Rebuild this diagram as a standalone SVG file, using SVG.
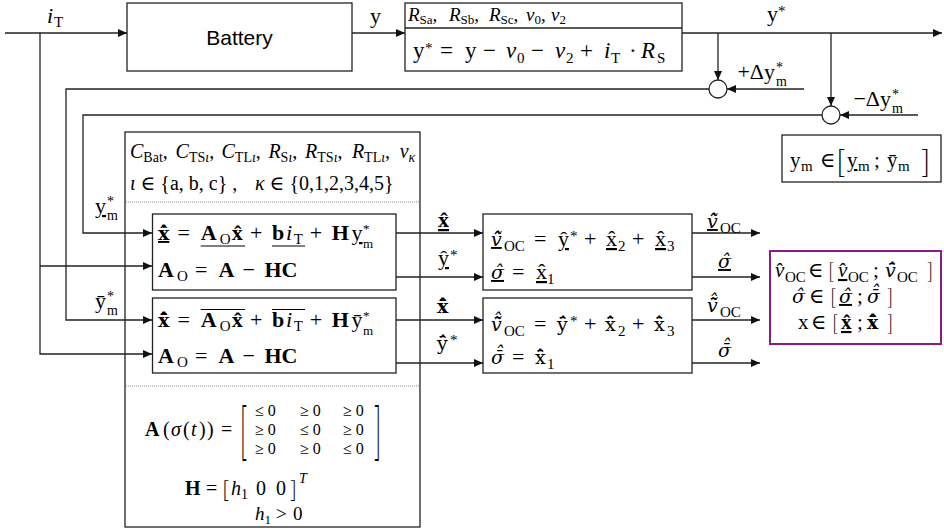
<svg xmlns="http://www.w3.org/2000/svg" width="944" height="532" viewBox="0 0 944 532">
<defs>
<marker id="ah" viewBox="0 0 9 8" refX="9" refY="4" markerWidth="9" markerHeight="8" markerUnits="userSpaceOnUse" orient="auto"><path d="M0,0 L9,4 L0,8 z" fill="#111"/></marker>
<style>
.ln{fill:none;stroke:#222;stroke-width:1.3}
.ar{marker-end:url(#ah)}
.bx{fill:#fff;stroke:#222;stroke-width:1.3}
.pb{fill:#fff;stroke:#8b1a8b;stroke-width:2}
.dt{stroke:#888;stroke-width:1;stroke-dasharray:1 1}
.t{font-family:"Liberation Serif","DejaVu Serif",serif;font-size:22px;fill:#000}
.sans{font-family:"Liberation Sans",Arial,sans-serif;font-size:21px;fill:#000}
.s{font-size:15px}
.i{font-style:italic}
.b{font-weight:bold}
.u{text-decoration:underline}
.dj{font-family:"DejaVu Serif",serif;font-size:19px}
.dl{stroke:#000;stroke-width:1}
.br{font-family:Lato,"DejaVu Sans",sans-serif;font-weight:300;fill:#000}
</style>
</defs>
<rect width="944" height="532" fill="#fff"/>

<g id="battery">
<rect class="bx" x="127" y="3" width="225" height="68"/>
<text class="sans" x="239.5" y="45" text-anchor="middle">Battery</text>
</g>

<g id="correction">
<rect class="bx" x="405" y="3" width="277" height="68"/>
<line class="ln" x1="405" y1="28" x2="682" y2="28"/>
<text class="t" style="font-size:19px"><tspan x="408" y="21" class="i">R</tspan><tspan y="24" style="font-size:13px">Sa</tspan><tspan y="21">,</tspan><tspan x="449" y="21" class="i">R</tspan><tspan y="24" style="font-size:13px">Sb</tspan><tspan y="21">,</tspan><tspan x="489" y="21" class="i">R</tspan><tspan y="24" style="font-size:13px">Sc</tspan><tspan y="21">,</tspan><tspan x="526" y="21" class="i">v</tspan><tspan y="24" style="font-size:13px">0</tspan><tspan y="21">,</tspan><tspan x="551" y="21" class="i">v</tspan><tspan y="24" style="font-size:13px">2</tspan></text>
<text class="t" style="font-size:23px"><tspan x="413" y="58">y</tspan><tspan x="425" y="53" class="s">*</tspan><tspan x="440" y="58">=</tspan><tspan x="465" y="58">y</tspan><tspan x="483" y="58">−</tspan><tspan x="506" y="58" class="i">v</tspan><tspan x="517" y="63" class="s">0</tspan><tspan x="531" y="58">−</tspan><tspan x="555" y="58" class="i">v</tspan><tspan x="566" y="63" class="s">2</tspan><tspan x="580" y="58">+</tspan><tspan x="604" y="58" class="i">i</tspan><tspan x="611" y="63" class="s">T</tspan><tspan x="629" y="58">·</tspan><tspan x="641" y="58" class="i">R</tspan><tspan x="657" y="63" class="s">S</tspan></text>
</g>

<g id="observer">
<rect class="bx" x="125" y="132" width="295" height="395"/>
<text class="t" style="font-size:20px"><tspan x="130" y="158" class="i">C</tspan><tspan y="162" style="font-size:14px">Bat</tspan><tspan y="158">,</tspan><tspan x="175.6" y="158" class="i">C</tspan><tspan y="162" style="font-size:14px">TS<tspan class="i">ι</tspan></tspan><tspan y="158">,</tspan><tspan x="221.5" y="158" class="i">C</tspan><tspan y="162" style="font-size:14px">TL<tspan class="i">ι</tspan></tspan><tspan y="158">,</tspan><tspan x="268.4" y="158" class="i">R</tspan><tspan y="162" style="font-size:14px">S<tspan class="i">ι</tspan></tspan><tspan y="158">,</tspan><tspan x="305.1" y="158" class="i">R</tspan><tspan y="162" style="font-size:14px">TS<tspan class="i">ι</tspan></tspan><tspan y="158">,</tspan><tspan x="351.9" y="158" class="i">R</tspan><tspan y="162" style="font-size:14px">TL<tspan class="i">ι</tspan></tspan><tspan y="158">,</tspan><tspan x="399.7" y="158" class="i">v</tspan><tspan y="162" style="font-size:14px" class="i">κ</tspan></text>
<text class="t" style="font-size:20px"><tspan x="130" y="190" class="i">ι</tspan><tspan y="190"> ∈ {a, b, c} ,</tspan><tspan x="255" y="190" class="i">κ</tspan><tspan y="190"> ∈ {0,1,2,3,4,5}</tspan></text>
<line class="dt" x1="126" y1="202" x2="419" y2="202"/>
<line class="dt" x1="126" y1="386" x2="419" y2="386"/>
<text class="t" style="font-size:20px"><tspan x="145" y="436" class="b">A</tspan><tspan x="163" y="436">(</tspan><tspan x="171" y="436" class="i">σ</tspan><tspan x="183" y="436">(</tspan><tspan x="191" y="436" class="i">t</tspan><tspan x="199" y="436">)</tspan><tspan x="207" y="436">)</tspan><tspan x="221" y="436">=</tspan></text>
<text class="br" transform="translate(240,453) scale(1,2.6)" style="font-size:24px">[</text>
<text class="br" transform="translate(374,453) scale(1,2.6)" style="font-size:24px">]</text>
<text class="t" style="font-size:16px"><tspan x="255" y="416">≤ 0</tspan><tspan x="300" y="416">≥ 0</tspan><tspan x="343" y="416">≥ 0</tspan><tspan x="255" y="435">≥ 0</tspan><tspan x="300" y="435">≤ 0</tspan><tspan x="343" y="435">≥ 0</tspan><tspan x="255" y="454">≥ 0</tspan><tspan x="300" y="454">≥ 0</tspan><tspan x="343" y="454">≤ 0</tspan></text>
<text class="t" style="font-size:20px"><tspan x="185" y="495" class="b">H</tspan><tspan x="206" y="495">=</tspan><tspan x="231" y="495" class="i">h</tspan><tspan y="499" style="font-size:14px">1</tspan><tspan x="256" y="495">0</tspan><tspan x="276" y="495">0</tspan><tspan x="299" y="483" class="i" style="font-size:14px">T</tspan></text>
<text class="br" x="222" y="498" style="font-size:24px">[</text>
<text class="br" x="290" y="498" style="font-size:24px">]</text>
<text class="t" style="font-size:19px"><tspan x="255" y="520" class="i">h</tspan><tspan y="524" style="font-size:13px">1</tspan><tspan x="276" y="520">&gt;</tspan><tspan x="293" y="520">0</tspan></text>
</g>

<g id="observer-lower">
<rect class="bx" x="152.5" y="214" width="243.5" height="76"/>
<text class="t"><tspan x="158" y="240" class="dj b u">x&#x302;&#x307;</tspan><tspan x="177.5" y="240">=</tspan><tspan x="200.7" y="240" class="b">A</tspan><tspan x="219.8" y="244" class="s">O</tspan><tspan x="231.8" y="240" class="b">x&#x302;</tspan><tspan x="250" y="240">+</tspan><tspan x="272" y="240" class="b">b</tspan><tspan x="286" y="240" class="i">i</tspan><tspan x="293.7" y="244" class="s">T</tspan><tspan x="309.7" y="240">+</tspan><tspan x="331.7" y="240" class="b">H</tspan><tspan x="351.5" y="240" class="u">y</tspan><tspan x="363.1" y="233" style="font-size:13px">*</tspan><tspan x="363.1" y="248" style="font-size:13px">m</tspan></text>
<line class="dl" x1="200.7" y1="246" x2="245" y2="246"/>
<line class="dl" x1="272" y1="246" x2="305" y2="246"/>
<text class="t"><tspan x="158" y="277" class="b">A</tspan><tspan x="177" y="281" class="s">O</tspan><tspan x="195" y="277">=</tspan><tspan x="218.5" y="277" class="b">A</tspan><tspan x="242.5" y="277">−</tspan><tspan x="264.5" y="277" class="b">HC</tspan></text>
</g>

<g id="observer-upper">
<rect class="bx" x="152.5" y="298" width="243.5" height="75"/>
<text class="t"><tspan x="158" y="327" class="dj b">x&#x304;&#x302;&#x307;</tspan><tspan x="177.5" y="327">=</tspan><tspan x="200.7" y="327" class="b">A</tspan><tspan x="219.8" y="331" class="s">O</tspan><tspan x="231.8" y="327" class="b">x&#x302;</tspan><tspan x="250" y="327">+</tspan><tspan x="272" y="327" class="b">b</tspan><tspan x="286" y="327" class="i">i</tspan><tspan x="293.7" y="331" class="s">T</tspan><tspan x="309.7" y="327">+</tspan><tspan x="331.7" y="327" class="b">H</tspan><tspan x="351.5" y="327">ȳ</tspan><tspan x="363.1" y="320" style="font-size:13px">*</tspan><tspan x="363.1" y="335" style="font-size:13px">m</tspan></text>
<line class="dl" x1="200.7" y1="309.5" x2="245" y2="309.5"/>
<line class="dl" x1="272" y1="309.5" x2="305" y2="309.5"/>
<text class="t"><tspan x="158" y="363" class="b">A</tspan><tspan x="177" y="367" class="s">O</tspan><tspan x="195" y="363">=</tspan><tspan x="218.5" y="363" class="b">A</tspan><tspan x="242.5" y="363">−</tspan><tspan x="264.5" y="363" class="b">HC</tspan></text>
</g>

<g id="estimate-lower">
<rect class="bx" x="483" y="214" width="209" height="76"/>
<text class="t"><tspan x="491" y="246" class="dj i u">v&#x303;&#x302;</tspan><tspan x="504" y="251" class="s">OC</tspan><tspan x="534" y="246">=</tspan><tspan x="558" y="246" class="u">ŷ</tspan><tspan x="570" y="241" class="s">*</tspan><tspan x="584" y="246">+</tspan><tspan x="606" y="246" class="u">x&#x302;</tspan><tspan x="618" y="251" class="s">2</tspan><tspan x="632" y="246">+</tspan><tspan x="655" y="246" class="u">x&#x302;</tspan><tspan x="667" y="251" class="s">3</tspan></text>
<text class="t"><tspan x="491" y="279" class="dj i u">σ&#x302;</tspan><tspan x="512" y="279">=</tspan><tspan x="536" y="279" class="u">x&#x302;</tspan><tspan x="547" y="284" class="s">1</tspan></text>
</g>

<g id="estimate-upper">
<rect class="bx" x="483" y="298" width="209" height="75"/>
<text class="t"><tspan x="491" y="331" class="dj i">v&#x303;&#x304;&#x302;</tspan><tspan x="504" y="336" class="s">OC</tspan><tspan x="534" y="331">=</tspan><tspan x="557" y="331" class="dj">y&#x304;&#x302;</tspan><tspan x="570" y="326" class="s">*</tspan><tspan x="584" y="331">+</tspan><tspan x="605" y="331" class="dj">x&#x304;&#x302;</tspan><tspan x="618" y="336" class="s">2</tspan><tspan x="632" y="331">+</tspan><tspan x="654" y="331" class="dj">x&#x304;&#x302;</tspan><tspan x="667" y="336" class="s">3</tspan></text>
<text class="t"><tspan x="491" y="364" class="dj i">σ&#x304;&#x302;</tspan><tspan x="512" y="364">=</tspan><tspan x="535" y="364" class="dj">x&#x304;&#x302;</tspan><tspan x="547" y="369" class="s">1</tspan></text>
</g>

<g id="sum-plus">
<circle class="bx" cx="718" cy="89" r="9"/>
</g>
<g id="sum-minus">
<circle class="bx" cx="831" cy="115" r="9"/>
</g>

<g id="ym-range">
<rect class="bx" x="782" y="135" width="159" height="47"/>
<text class="t" style="font-size:21px"><tspan x="790" y="167">y</tspan><tspan x="801" y="171" class="s">m</tspan><tspan x="820" y="167">∈</tspan><tspan x="847" y="167" class="u">y</tspan><tspan x="858" y="171" class="s">m</tspan><tspan x="874" y="167">;</tspan><tspan x="887" y="167">ȳ</tspan><tspan x="898" y="171" class="s">m</tspan></text>
<text class="br" x="836" y="173" style="font-size:32px">[</text>
<text class="br" x="921" y="173" style="font-size:32px">]</text>
</g>

<g id="result">
<rect class="pb" x="770" y="251" width="171" height="93"/>
<text class="t" style="font-size:21px"><tspan x="775" y="277" class="i">v&#x302;</tspan><tspan x="785" y="282" class="s">OC</tspan><tspan x="808" y="277">∈</tspan><tspan x="838" y="277" class="i u">v&#x302;</tspan><tspan x="848" y="282" class="s">OC</tspan><tspan x="873" y="277">;</tspan><tspan x="885" y="277" class="dj i">v&#x304;&#x302;</tspan><tspan x="897" y="282" class="s">OC</tspan></text>
<text class="br" x="828" y="279" style="font-size:21px">[</text>
<text class="br" x="927" y="279" style="font-size:21px">]</text>
<text class="t" style="font-size:21px"><tspan x="792" y="303" class="dj i">σ&#x302;</tspan><tspan x="809" y="303">∈</tspan><tspan x="839" y="303" class="dj i u">σ&#x302;</tspan><tspan x="857" y="303">;</tspan><tspan x="867" y="303" class="dj i">σ&#x304;&#x302;</tspan></text>
<text class="br" x="830" y="305" style="font-size:21px">[</text>
<text class="br" x="887" y="305" style="font-size:21px">]</text>
<text class="t" style="font-size:21px"><tspan x="798" y="329">x</tspan><tspan x="811" y="329">∈</tspan><tspan x="841" y="329" class="b u">x&#x302;</tspan><tspan x="857" y="329">;</tspan><tspan x="867" y="329" class="dj b">x&#x304;&#x302;</tspan></text>
<text class="br" x="832" y="331" style="font-size:21px">[</text>
<text class="br" x="887" y="331" style="font-size:21px">]</text>
</g>

<g id="connectors">
<path class="ln ar" d="M5,33 H127"/>
<path class="ln ar" d="M40,33 V354 H152"/>
<path class="ln ar" d="M40,266 H152"/>
<path class="ln ar" d="M352,33 H405"/>
<path class="ln ar" d="M682,33 H942"/>
<path class="ln ar" d="M718,33 V80"/>
<path class="ln ar" d="M804,89 H727"/>
<path class="ln ar" d="M709,89 H66 V320 H152"/>
<path class="ln ar" d="M831,33 V106"/>
<path class="ln ar" d="M918,115 H840"/>
<path class="ln ar" d="M822,115 H83 V233 H152"/>
<path class="ln ar" d="M396,233 H483"/>
<path class="ln ar" d="M396,277 H483"/>
<path class="ln ar" d="M396,320 H483"/>
<path class="ln ar" d="M396,363 H483"/>
<path class="ln ar" d="M692,233 H760"/>
<path class="ln ar" d="M692,277 H760"/>
<path class="ln ar" d="M692,320 H760"/>
<path class="ln ar" d="M692,363 H760"/>
</g>

<g id="labels">
<text class="t"><tspan x="47" y="23" class="i">i</tspan><tspan x="54" y="27" class="s">T</tspan></text>
<text class="t" x="370" y="23">y</text>
<text class="t"><tspan x="767" y="21">y</tspan><tspan x="778" y="16" class="s">*</tspan></text>
<text class="t" x="775" y="79" text-anchor="end">+Δy</text>
<text class="t" x="776" y="72" style="font-size:14px">*</text>
<text class="t" x="776" y="86" style="font-size:14px">m</text>
<text class="t" x="891" y="106" text-anchor="end">−Δy</text>
<text class="t" x="892" y="99" style="font-size:14px">*</text>
<text class="t" x="892" y="113" style="font-size:14px">m</text>
<text class="t"><tspan x="95" y="213" class="u">y</tspan><tspan x="107" y="206" style="font-size:14px">*</tspan><tspan x="107" y="220" style="font-size:14px">m</tspan></text>
<text class="t"><tspan x="95" y="308">ȳ</tspan><tspan x="107" y="301" style="font-size:14px">*</tspan><tspan x="107" y="315" style="font-size:14px">m</tspan></text>
<text class="t b u" x="438" y="227">x&#x302;</text>
<text class="t"><tspan x="438" y="265" class="u">ŷ</tspan><tspan x="450" y="260" class="s">*</tspan></text>
<text class="t b dj" x="437" y="313">x&#x304;&#x302;</text>
<text class="t"><tspan x="437" y="350" class="dj">y&#x304;&#x302;</tspan><tspan x="450" y="345" class="s">*</tspan></text>
<text class="t"><tspan x="707" y="228" class="dj i u">v&#x303;&#x302;</tspan><tspan x="720" y="233" class="s">OC</tspan></text>
<text class="t dj i u" x="718" y="268">σ&#x302;</text>
<text class="t"><tspan x="707" y="312" class="dj i">v&#x303;&#x304;&#x302;</tspan><tspan x="720" y="317" class="s">OC</tspan></text>
<text class="t dj i" x="718" y="357">σ&#x304;&#x302;</text>
</g>
</svg>
